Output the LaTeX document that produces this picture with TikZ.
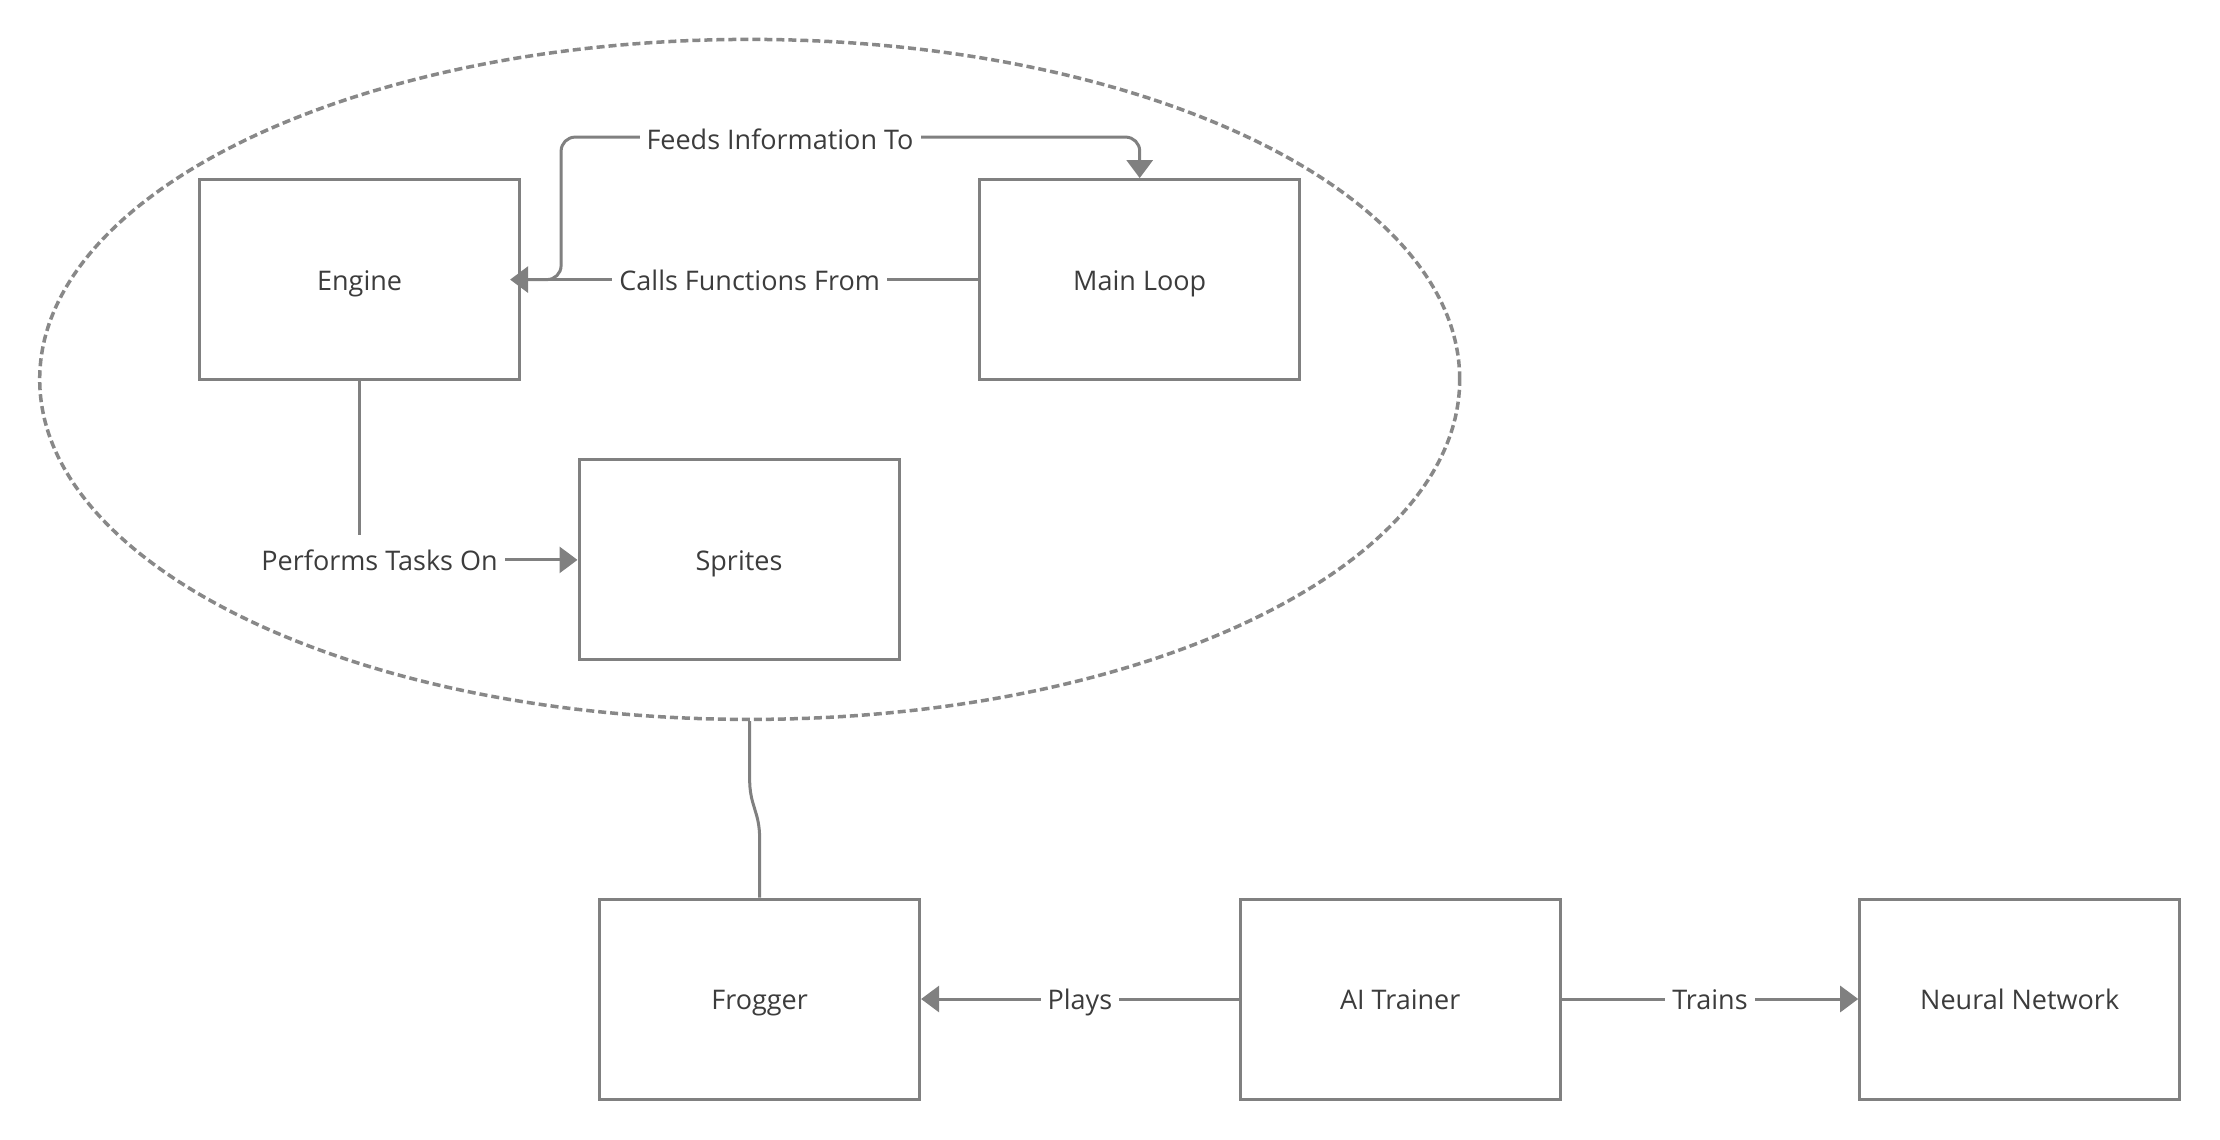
\documentclass[tikz,border=0pt]{standalone}
\usepackage{fontspec}
\setmainfont{Open Sans}
\usetikzlibrary{arrows.meta,shapes.geometric,calc}
\definecolor{ln}{RGB}{128,128,128}
\definecolor{dsh}{RGB}{136,136,136}
\definecolor{tx}{RGB}{60,60,60}
\begin{document}
\begin{tikzpicture}[x=1pt,y=-1pt,
  box/.style={draw=ln, line width=3pt, minimum width=320pt, minimum height=200pt, text=tx, font=\fontsize{27}{32}\selectfont, inner sep=0pt, text height=27pt, text depth=6.2pt},
  conn/.style={draw=ln, line width=3pt},
  arr/.style={conn, -{Triangle[length=18pt,width=26pt]}},
  lbl/.style={fill=white, text=tx, font=\fontsize{27}{32}\selectfont, inner xsep=7pt, inner ysep=8pt, text height=27pt, text depth=6.2pt}]
\useasboundingbox[fill=white] (0,0) rectangle (2220,1140);
\node[ellipse, draw=dsh, line width=3.5pt, dash pattern=on 8pt off 4pt, minimum width=1420pt, minimum height=680pt, inner sep=0pt] (ell) at (749.7,379.4) {};
\node[box] (eng) at (359.6,279.6) {Engine};
\node[box] (ml) at (1139.7,279.6) {Main Loop};
\node[box] (spr) at (739,559.9) {Sprites};
\node[box] (fro) at (759.6,999) {Frogger};
\node[box] (ait) at (1400.2,999) {AI Trainer};
\node[box] (nn) at (2019.7,999) {Neural Network};
% Feeds Information To
\draw[arr, rounded corners=14pt] (eng.east) -- ++(40,0) |- ($(ml.north)+(0,-41)$) -- (ml.north);
\node[lbl] (lfeed) at (780,139) {Feeds Information To};
% Calls Functions From
\draw[arr, shorten >=-11pt] (ml.west) -- node[lbl] (lcall) {Calls Functions From} (eng.east);
% Performs Tasks On
\draw[arr] (eng.south) |- (spr.west);
\node[lbl] (lperf) at ($(eng.south|-spr.west)+(20,0)$) {Performs Tasks On};
% Ellipse to Frogger
\draw[conn, rounded corners=10pt] (ell.south) -- ++(0,71) -- ($(fro.north)+(0,-72)$) -- (fro.north);
% Plays / Trains
\draw[arr] (ait.west) -- node[lbl] (lplay) {Plays} (fro.east);
\draw[arr] (ait.east) -- node[lbl] (ltrain) {Trains} (nn.west);
\end{tikzpicture}
\end{document}
